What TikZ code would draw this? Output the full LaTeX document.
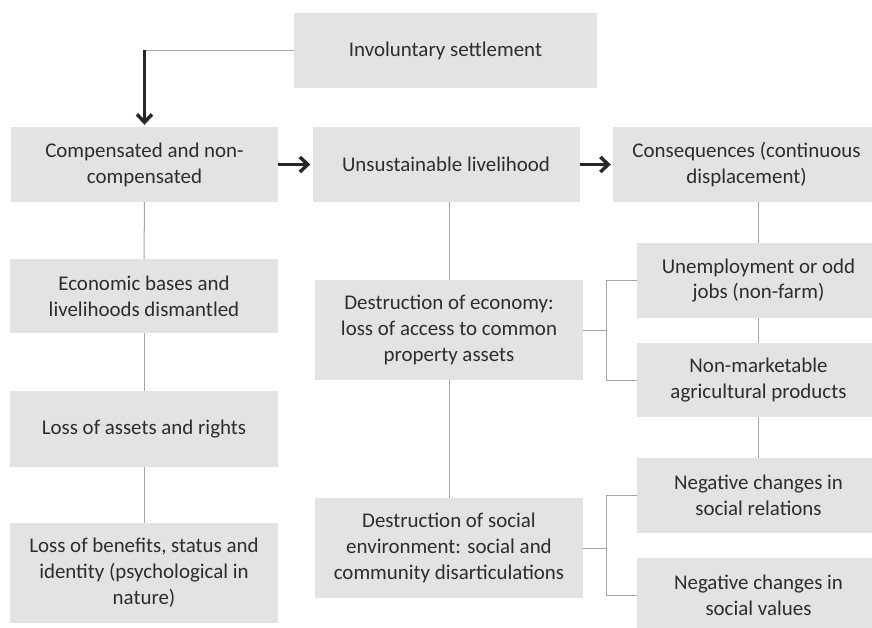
\documentclass[tikz,border=0pt]{standalone}
\usepackage{fontspec}
\setmainfont{Carlito}
\usepackage{tikz}
\usetikzlibrary{arrows.meta, positioning}
\definecolor{BoxGray}{RGB}{227,227,227}
\definecolor{LineGray}{RGB}{165,165,165}
\definecolor{TextGray}{RGB}{45,45,45}

\begin{document}
\begin{tikzpicture}[x=1bp, y=-1bp,
    box/.style={fill=BoxGray, text=TextGray, align=center, inner sep=0pt,
      minimum width=267bp, minimum height=75bp,
      font=\fontsize{21}{26}\selectfont},
    link/.style={LineGray, line width=1bp},
    flow/.style={-{Straight Barb[length=8bp, width=15bp, line width=3.4bp]}, line width=2.4bp, black!85}]
    \useasboundingbox (0,0) rectangle (872,628);
    \clip (0,0) rectangle (872,628);

    % top
    \node[box, minimum width=303bp] (settle) at (445.5,50.5) {Involuntary settlement};

    % row of three
    \node[box] (comp) at (144.5,164.5) {Compensated and non-\\compensated};
    \node[box] (unsust) at (446,164.5) {Unsustainable livelihood};
    \node[box] (conseq) at (746.5,164.5) {Consequences (continuous\\displacement)};

    % left column
    \node[box, minimum width=268bp, minimum height=74bp] (bases) at (144,296) {Economic bases and\\livelihoods dismantled};
    \node[box, minimum width=268bp, minimum height=76bp] (assets) at (144,429) {Loss of assets and rights};
    \node[box, minimum width=268bp, minimum height=100bp] (benefits) at (144,573) {Loss of benefits, status and\\identity (psychological in\\nature)};

    % middle column
    \node[box, minimum width=268bp, minimum height=100bp] (economy) at (449,330) {Destruction of economy:\\loss of access to common\\property assets};
    \node[box, minimum width=268bp, minimum height=100bp] (socenv) at (449,548) {Destruction of social\\environment: social and\\community disarticulations};

    % right column
    \node[box, minimum width=243bp] (jobs) at (758.5,280.5) {Unemployment or odd\\jobs (non-farm)};
    \node[box, minimum width=243bp, minimum height=74bp] (market) at (758.5,380) {Non-marketable\\agricultural products};
    \node[box, minimum width=243bp] (relations) at (758.5,495.5) {Negative changes in\\social relations};
    \node[box, minimum width=243bp] (values) at (758.5,595.5) {Negative changes in\\social values};

    % arrows
    \coordinate (bend) at (comp.north |- settle.west);
    \draw[link] (settle.west) -- (bend);
    \draw[flow, shorten >=2bp] (bend) -- (comp.north);
    \draw[flow, shorten >=2bp] (comp.east) -- (unsust.west);
    \draw[flow, shorten >=2bp] (unsust.east) -- (conseq.west);

    % plain links
    \draw[link] (comp) -- (bases);
    \draw[link] (bases) -- (assets);
    \draw[link] (assets) -- (benefits);
    \draw[link] (economy.north) -- (economy.north |- unsust.south);
    \draw[link] (economy) -- (socenv);
    \draw[link] (jobs.north) -- (jobs.north |- conseq.south);
    \draw[link] (jobs) -- (market);
    \draw[link] (market) -- (relations);

    % brackets
    \draw[link] (economy.east) -- ++(24,0);
    \draw[link] (jobs.west) -- ++(-30,0) |- (market.west);
    \draw[link] (socenv.east) -- ++(24,0);
    \draw[link] (relations.west) -- ++(-30,0) |- (values.west);
\end{tikzpicture}
\end{document}
